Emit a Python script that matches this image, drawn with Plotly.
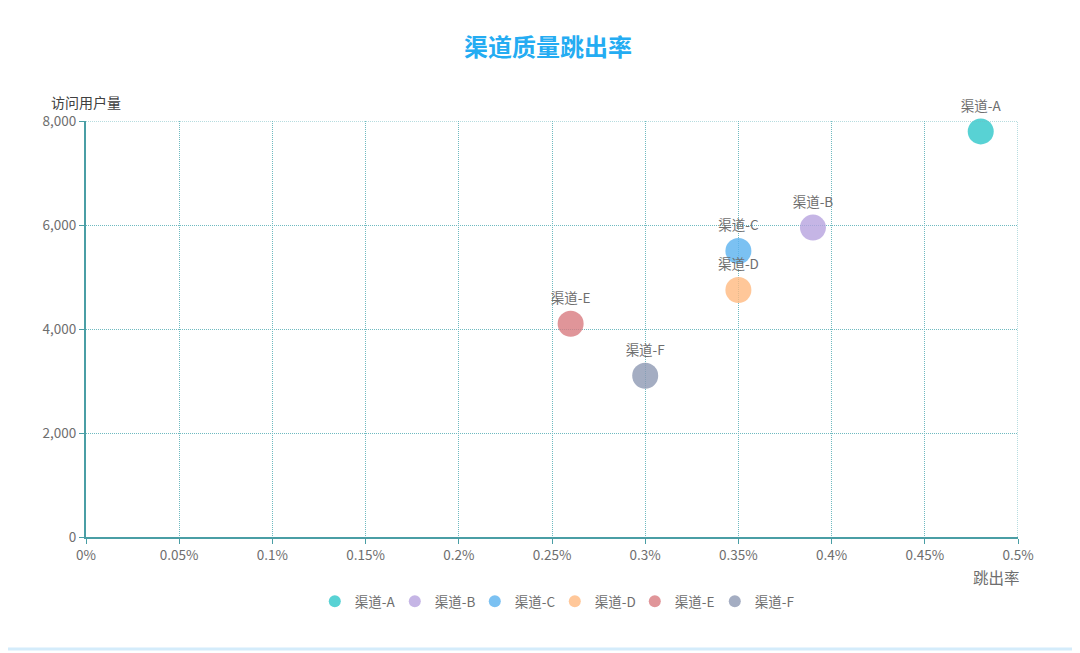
import plotly.graph_objects as go

channels = ["渠道-A", "渠道-B", "渠道-C", "渠道-D", "渠道-E", "渠道-F"]
bounce_rate = [0.48, 0.39, 0.35, 0.35, 0.26, 0.30]
visitors = [7800, 5950, 5500, 4750, 4100, 3100]
colors = ["#2ec7c9", "#b6a2de", "#5ab1ef", "#ffb980", "#d87a80", "#8d98b3"]

x_ticks = [0, 0.05, 0.1, 0.15, 0.2, 0.25, 0.3, 0.35, 0.4, 0.45, 0.5]
x_tick_text = ["0%", "0.05%", "0.1%", "0.15%", "0.2%", "0.25%", "0.3%", "0.35%", "0.4%", "0.45%", "0.5%"]
y_ticks = [0, 2000, 4000, 6000, 8000]
y_tick_text = ["0", "2,000", "4,000", "6,000", "8,000"]

FONT = "Noto Sans CJK SC, Microsoft YaHei, sans-serif"

fig = go.Figure()
for name, xv, yv, c in zip(channels, bounce_rate, visitors, colors):
    fig.add_trace(go.Scatter(
        x=[xv], y=[yv], name=name, mode="markers+text",
        text=[name], textposition="top center",
        textfont=dict(size=13.5, color="#6e6e6e", family=FONT),
        marker=dict(size=26, color=c, opacity=0.8, line=dict(width=0)),
        cliponaxis=False,
    ))

axis_col = "#4a9ea5"
grid_col = "#6fbac0"
GDASH = "1px,1px"

fig.update_layout(
    width=1080, height=653,
    paper_bgcolor="white", plot_bgcolor="white",
    margin=dict(l=78, r=70, t=113, b=124),
    font=dict(family=FONT, color="#6e6e6e", size=13),
    title=dict(text="<b>渠道质量跳出率</b>", x=0.5, xanchor="center", y=0.940, yanchor="middle",
               font=dict(size=24, color="#24acf2", family=FONT)),
    showlegend=True,
    legend=dict(orientation="h", x=0.503, xanchor="center", y=-0.155, yanchor="middle",
                font=dict(size=13.5, color="#6e6e6e", family=FONT), itemsizing="constant",
                entrywidth=35, entrywidthmode="pixels", tracegroupgap=0),
    xaxis=dict(range=[0, 0.5], tickvals=x_ticks, ticktext=x_tick_text,
               showgrid=True, gridcolor=grid_col, griddash=GDASH, gridwidth=1,
               showline=True, linecolor=axis_col, linewidth=2, mirror=False,
               ticks="outside", ticklen=5, tickcolor=axis_col, zeroline=False,
               tickfont=dict(size=13.5, color="#6e6e6e")),
    yaxis=dict(range=[0, 8000], tickvals=y_ticks, ticktext=y_tick_text,
               showgrid=True, gridcolor=grid_col, griddash=GDASH, gridwidth=1,
               showline=True, linecolor=axis_col, linewidth=2,
               ticks="outside", ticklen=5, tickcolor=axis_col, zeroline=False,
               tickfont=dict(size=13.5, color="#6e6e6e")),
    annotations=[
        dict(text="跳出率", xref="paper", yref="paper", x=1.0043, y=-0.095, xanchor="right",
             yanchor="middle", showarrow=False, font=dict(size=15.5, color="#6e6e6e")),
        dict(text="访问用户量", xref="paper", yref="paper", x=0.0, y=1.045, xanchor="center",
             yanchor="middle", showarrow=False, font=dict(size=14, color="#404040")),
    ],
    shapes=[
        dict(type="line", xref="x", yref="paper", x0=0.5, x1=0.5, y0=0, y1=1,
             line=dict(color=grid_col, width=1, dash=GDASH)),
        dict(type="line", xref="paper", yref="y", x0=0, x1=1, y0=8000, y1=8000,
             line=dict(color=grid_col, width=1, dash=GDASH)),
        # outer card border
        dict(type="line", xref="paper", yref="paper", x0=-0.092, x1=1.066, y0=-0.269, y1=-0.269,
             line=dict(color="#d4ecfb", width=3)),
        dict(type="line", xref="paper", yref="paper", x0=-0.0905, x1=-0.0905, y0=-0.269, y1=1.29,
             line=dict(color="#eef6fc", width=1)),
    ],
)

fig.write_html("out.html")
